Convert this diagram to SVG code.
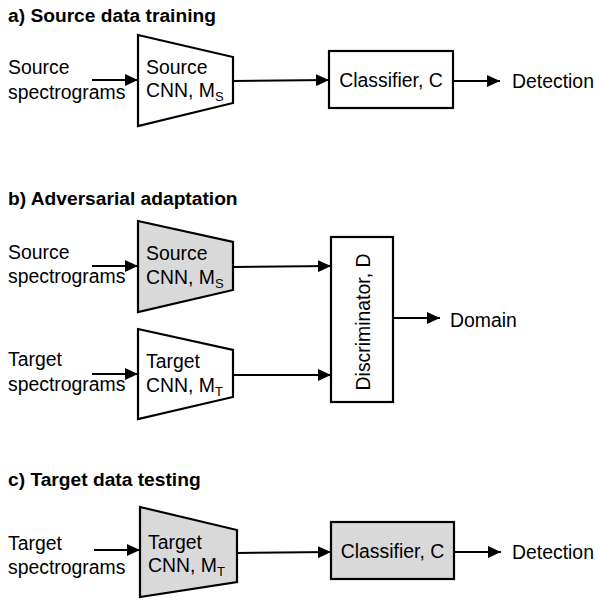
<svg xmlns="http://www.w3.org/2000/svg" width="595" height="600" viewBox="0 0 595 600">
<defs>
<style>
text{font-family:"Liberation Sans",Arial,sans-serif;font-size:19.4px;fill:#000}
.title{font-weight:bold;font-size:19.2px}
.sub{font-size:13px}
.shape{stroke:#000;stroke-width:2.2;fill:#fff}
.gray{fill:#d9d9d9}
.conn{stroke:#000;stroke-width:2;fill:none}
</style>
<marker id="ah" markerUnits="userSpaceOnUse" markerWidth="14" markerHeight="12" refX="13" refY="6" orient="auto">
<path d="M0,0 L13,6 L0,12 z" fill="#000"/>
</marker>
</defs>
<rect width="595" height="600" fill="#fff"/>

<text class="title" x="8" y="22">a) Source data training</text>
<text class="title" x="8" y="205">b) Adversarial adaptation</text>
<text class="title" x="8" y="486">c) Target data testing</text>

<g id="connectors">
<line class="conn" x1="92" y1="80" x2="138" y2="80" marker-end="url(#ah)"/>
<line class="conn" x1="233" y1="81" x2="329" y2="80" marker-end="url(#ah)"/>
<line class="conn" x1="453" y1="81" x2="500" y2="81" marker-end="url(#ah)"/>
<line class="conn" x1="92" y1="266" x2="138" y2="266" marker-end="url(#ah)"/>
<line class="conn" x1="92" y1="374" x2="138" y2="374" marker-end="url(#ah)"/>
<line class="conn" x1="233" y1="267" x2="331" y2="266" marker-end="url(#ah)"/>
<line class="conn" x1="233" y1="375" x2="331" y2="375" marker-end="url(#ah)"/>
<line class="conn" x1="393" y1="318" x2="440" y2="318" marker-end="url(#ah)"/>
<line class="conn" x1="94" y1="550" x2="140" y2="550" marker-end="url(#ah)"/>
<line class="conn" x1="237" y1="553" x2="331" y2="552" marker-end="url(#ah)"/>
<line class="conn" x1="454" y1="552" x2="501" y2="552" marker-end="url(#ah)"/>
</g>

<g id="src-input-a"><text x="8" y="74">Source</text><text x="8" y="99">spectrograms</text></g>
<g id="src-cnn-a">
<polygon class="shape" points="138,35 233,57 233,103 138,126"/>
<text x="146" y="74">Source</text>
<text x="146" y="97">CNN, M<tspan class="sub" dy="4">S</tspan></text>
</g>
<g id="classifier-a">
<rect class="shape" x="329" y="51" width="124" height="57"/>
<text x="391" y="87" text-anchor="middle">Classifier, C</text>
</g>
<g id="detection-a"><text x="512" y="88">Detection</text></g>

<g id="src-input-b"><text x="8" y="259">Source</text><text x="8" y="283">spectrograms</text></g>
<g id="src-cnn-b">
<polygon class="shape gray" points="138,221 233,242 233,290 138,312"/>
<text x="146" y="260">Source</text>
<text x="146" y="284">CNN, M<tspan class="sub" dy="4">S</tspan></text>
</g>
<g id="tgt-input-b"><text x="8" y="366">Target</text><text x="8" y="391">spectrograms</text></g>
<g id="tgt-cnn-b">
<polygon class="shape" points="138,329 233,350 233,397 138,419"/>
<text x="146" y="368">Target</text>
<text x="146" y="392">CNN, M<tspan class="sub" dy="4">T</tspan></text>
</g>
<g id="discriminator">
<rect class="shape" x="331" y="237" width="62" height="165"/>
<text transform="translate(369.5,322) rotate(-90)" text-anchor="middle">Discriminator, D</text>
</g>
<g id="domain"><text x="450" y="327">Domain</text></g>

<g id="tgt-input-c"><text x="8" y="550">Target</text><text x="8" y="574">spectrograms</text></g>
<g id="tgt-cnn-c">
<polygon class="shape gray" points="140,507 237,530 237,582 140,597"/>
<text x="148" y="549">Target</text>
<text x="148" y="572">CNN, M<tspan class="sub" dy="4">T</tspan></text>
</g>
<g id="classifier-c">
<rect class="shape gray" x="331" y="522" width="123" height="57"/>
<text x="392.5" y="558" text-anchor="middle">Classifier, C</text>
</g>
<g id="detection-c"><text x="512" y="559">Detection</text></g>
</svg>
